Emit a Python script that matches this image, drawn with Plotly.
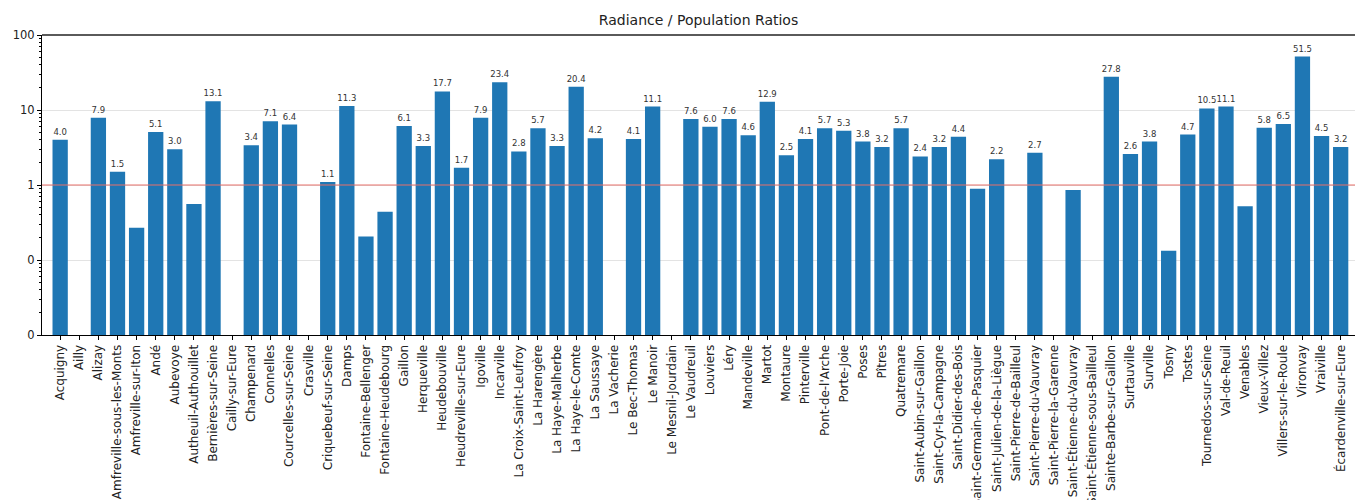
import plotly.graph_objects as go

communes = [
    "Acquigny", "Ailly", "Alizay", "Amfreville-sous-les-Monts", "Amfreville-sur-Iton",
    "Andé", "Aubevoye", "Autheuil-Authouillet", "Bernières-sur-Seine", "Cailly-sur-Eure",
    "Champenard", "Connelles", "Courcelles-sur-Seine", "Crasville", "Criquebeuf-sur-Seine",
    "Damps", "Fontaine-Bellenger", "Fontaine-Heudebourg", "Gaillon", "Herqueville",
    "Heudebouville", "Heudreville-sur-Eure", "Igoville", "Incarville", "La Croix-Saint-Leufroy",
    "La Harengère", "La Haye-Malherbe", "La Haye-le-Comte", "La Saussaye", "La Vacherie",
    "Le Bec-Thomas", "Le Manoir", "Le Mesnil-Jourdain", "Le Vaudreuil", "Louviers",
    "Léry", "Mandeville", "Martot", "Montaure", "Pinterville",
    "Pont-de-l'Arche", "Porte-Joie", "Poses", "Pîtres", "Quatremare",
    "Saint-Aubin-sur-Gaillon", "Saint-Cyr-la-Campagne", "Saint-Didier-des-Bois",
    "Saint-Germain-de-Pasquier", "Saint-Julien-de-la-Liègue", "Saint-Pierre-de-Bailleul",
    "Saint-Pierre-du-Vauvray", "Saint-Pierre-la-Garenne", "Saint-Étienne-du-Vauvray",
    "Saint-Étienne-sous-Bailleul", "Sainte-Barbe-sur-Gaillon", "Surtauville", "Surville",
    "Tosny", "Tostes", "Tournedos-sur-Seine", "Val-de-Reuil", "Venables",
    "Vieux-Villez", "Villers-sur-le-Roule", "Vironvay", "Vraiville", "Écardenville-sur-Eure",
]

ratios = [
    4.0, 0.0, 7.9, 1.5, 0.27,
    5.1, 3.0, 0.56, 13.1, 0.0,
    3.4, 7.1, 6.4, 0.0, 1.1,
    11.3, 0.205, 0.44, 6.1, 3.3,
    17.7, 1.7, 7.9, 23.4, 2.8,
    5.7, 3.3, 20.4, 4.2, 0.0,
    4.1, 11.1, 0.0, 7.6, 6.0,
    7.6, 4.6, 12.9, 2.5, 4.1,
    5.7, 5.3, 3.8, 3.2, 5.7,
    2.4, 3.2, 4.4,
    0.89, 2.2, 0.0,
    2.7, 0.0, 0.86,
    0.0, 27.8, 2.6, 3.8,
    0.133, 4.7, 10.5, 11.1, 0.52,
    5.8, 6.5, 51.5, 4.5, 3.2,
]

y_tick_vals = [0.01, 0.1, 1, 10, 100]
y_tick_text = ["0", "0", "1", "10", "100"]
minor_vals = [m * 10 ** e for e in (-2, -1, 0, 1) for m in range(2, 10)]

# zero ratios cannot be drawn on a log axis
bar_values = [v if v > 0 else None for v in ratios]
bar_labels = [f"{v:.1f}" if v >= 1 else "" for v in ratios]

FONT = "DejaVu Sans"
PLOT_LEFT, PLOT_RIGHT = 42, 1355

fig = go.Figure(
    go.Bar(
        x=list(range(len(communes))),
        y=bar_values,
        marker=dict(color="#1f77b4", line=dict(width=0)),
        width=0.8,
        text=bar_labels,
        textposition="outside",
        constraintext="none",
        cliponaxis=False,
        textfont=dict(family=FONT, size=8.5, color="#333333"),
        hoverinfo="x+y",
    )
)

# threshold line at a ratio of 1
fig.add_shape(
    type="line", xref="paper", yref="y",
    x0=0, x1=1, y0=1, y1=1,
    line=dict(color="#e8706b", width=1), layer="above",
)
# heavy top border
fig.add_shape(
    type="line", xref="paper", yref="paper",
    x0=0, x1=1, y0=1, y1=1,
    line=dict(color="#5a5a5a", width=2), layer="above",
)

fig.update_layout(
    width=1355, height=500,
    margin=dict(l=PLOT_LEFT, r=1355 - PLOT_RIGHT, t=35, b=165),
    paper_bgcolor="white", plot_bgcolor="white",
    showlegend=False,
    font=dict(family=FONT, size=11, color="#222222"),
    title=dict(
        text="Radiance / Population Ratios",
        x=(PLOT_LEFT + PLOT_RIGHT) / 2 / 1355, xanchor="center", xref="container",
        y=1 - 20 / 500, yanchor="middle",
        font=dict(family=FONT, size=14, color="#222222"),
    ),
    bargap=0.2,
)

fig.update_xaxes(
    tickmode="array",
    tickvals=list(range(len(communes))),
    ticktext=communes,
    tickangle=-90,
    range=[-0.95, 67.75],
    showgrid=False, zeroline=False,
    showline=True, linecolor="black", linewidth=1,
    ticks="outside", ticklen=4, tickcolor="black",
    tickfont=dict(family=FONT, size=12, color="#222222"),
    automargin=False,
)

fig.update_yaxes(
    type="log",
    range=[-2, 2],
    tickmode="array",
    tickvals=y_tick_vals,
    ticktext=y_tick_text,
    showgrid=True, gridcolor="#e3e3e3", gridwidth=1,
    zeroline=False,
    showline=True, linecolor="black", linewidth=1,
    ticks="outside", ticklen=4, tickcolor="black",
    tickfont=dict(family=FONT, size=11.5, color="#222222"),
    minor=dict(
        tickmode="array", tickvals=minor_vals,
        ticks="outside", ticklen=2, tickcolor="black", showgrid=False,
    ),
    automargin=False,
)

fig.write_html("out.html")
